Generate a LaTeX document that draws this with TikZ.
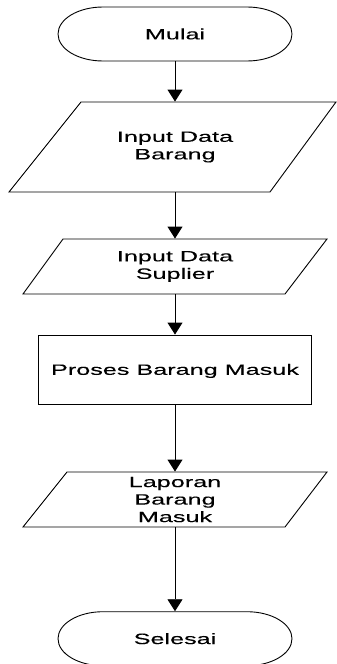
\documentclass[tikz,border=0pt]{standalone}
\usepackage{fontspec}
\setmainfont{Liberation Sans}[FakeStretch=1.68,FakeBold=0.15]
\usetikzlibrary{arrows.meta}
\begin{document}
\begin{tikzpicture}[x=1pt,y=1pt,line width=0.9pt,
  box/.style={draw=none,inner sep=0pt,font=\fontsize{15}{17.5}\selectfont,align=center},
  one/.style={text height=10.7pt,text depth=0pt},
  conn/.style={-{Triangle[width=15pt,length=12pt]}}]
\useasboundingbox (0,0) rectangle (337,-664);

% Mulai
\node[box,one,minimum width=234pt,minimum height=54pt] (start) at (175,-34) {Mulai};
\draw[shift={(start.center)}] (-72pt,27pt) -- (72pt,27pt)
  arc[start angle=90,end angle=-90,x radius=45pt,y radius=27pt] -- (-72pt,-27pt)
  arc[start angle=270,end angle=90,x radius=45pt,y radius=27pt] -- cycle;

% Input Data Barang
\node[box,minimum height=90pt] (in1) at (175,-147) {Input Data\\Barang};
\draw[shift={(in1.center)}] (-94pt,45pt) -- (161pt,45pt) -- (95pt,-45pt) -- (-166pt,-45pt) -- cycle;

% Input Data Suplier
\node[box,minimum height=55pt] (in2) at (175,-266.5) {Input Data\\Suplier};
\draw[shift={(in2.center)}] (-112pt,27.5pt) -- (152pt,27.5pt) -- (110pt,-27.5pt) -- (-152pt,-27.5pt) -- cycle;

% Proses Barang Masuk
\node[box,one,draw,minimum width=273pt,minimum height=69pt] (proc) at (175,-369.5) {Proses Barang Masuk};

% Laporan Barang Masuk
\node[box,minimum height=55pt] (out) at (175,-499.5) {Laporan\\Barang\\Masuk};
\draw[shift={(out.center)}] (-108pt,27.5pt) -- (152pt,27.5pt) -- (110pt,-27.5pt) -- (-152pt,-27.5pt) -- cycle;

% Selesai
\node[box,one,minimum width=234pt,minimum height=54pt] (stop) at (175,-638.7) {Selesai};
\draw[shift={(stop.center)}] (-72pt,27pt) -- (72pt,27pt)
  arc[start angle=90,end angle=-90,x radius=45pt,y radius=27pt] -- (-72pt,-27pt)
  arc[start angle=270,end angle=90,x radius=45pt,y radius=27pt] -- cycle;

% connectors
\draw[conn] (start.south) -- (in1.north);
\draw[conn] (in1.south) -- (in2.north);
\draw[conn] (in2.south) -- (proc.north);
\draw[conn] (proc.south) -- (out.north);
\draw[conn] (out.south) -- (stop.north);
\end{tikzpicture}
\end{document}
